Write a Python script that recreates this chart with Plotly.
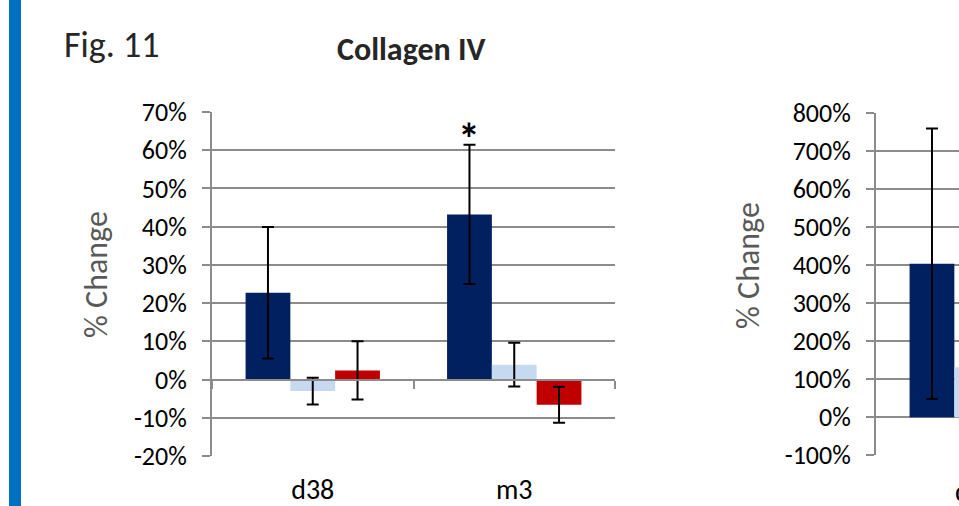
import plotly.graph_objects as go

# ---------------- data ----------------
categories = ["d38", "m3"]
series_names = ["Series 1", "Series 2", "Series 3"]

left_dark = [22.7, 43.2]
left_dark_err = [17.2, 18.2]
left_light = [-3.0, 3.9]
left_light_err = [3.5, 5.7]
left_red = [2.4, -6.6]
left_red_err = [7.6, 4.7]

right_categories = ["d38"]
right_dark = [404]
right_dark_err = [356]
right_light = [132]
right_light_err = [0]
right_red = [None]
right_red_err = [0]

left_ticks = list(range(-20, 71, 10))
right_ticks = list(range(-100, 801, 100))
significant = [("m3", 0)]  # (category, series index) marked with *

# ---------------- style ----------------
W, H = 959, 506
DARK = "#002060"
LIGHT = "#C6D9F1"
RED = "#C00000"
GRID = "#8C8C8C"
FONT = "Carlito, Calibri, Lato, sans-serif"


def px_x(v):
    return v / W


def px_y(v):
    return 1 - v / H


left_xdom = [px_x(212), px_x(615)]
left_ydom = [px_y(456), px_y(112)]
right_xdom = [px_x(876), 1.0]
right_ydom = [px_y(455.3), px_y(113.3)]

fig = go.Figure()

colors = [DARK, LIGHT, RED]
left_vals = [left_dark, left_light, left_red]
left_errs = [left_dark_err, left_light_err, left_red_err]
for name, c, v, e in zip(series_names, colors, left_vals, left_errs):
    fig.add_trace(go.Bar(
        x=categories, y=v, name=name, marker_color=c, marker_line_width=0,
        error_y=dict(type="data", array=e, visible=True, color="black",
                     thickness=2, width=6),
        xaxis="x", yaxis="y", showlegend=False,
    ))

right_vals = [right_dark, right_light, right_red]
right_errs = [right_dark_err, right_light_err, right_red_err]
for name, c, v, e in zip(series_names, colors, right_vals, right_errs):
    fig.add_trace(go.Bar(
        x=right_categories, y=v, name=name, marker_color=c, marker_line_width=0,
        error_y=dict(type="data", array=e, visible=True, color="black",
                     thickness=2, width=6),
        xaxis="x2", yaxis="y2", showlegend=False,
    ))

TICK_SIZE = 26
CAT_SIZE = 28

yaxis_common = dict(
    showline=True, linecolor=GRID, linewidth=2,
    ticks="outside", ticklen=8, tickwidth=2, tickcolor=GRID,
    showgrid=True, gridcolor=GRID, gridwidth=1.5,
    zeroline=False,
    tickfont=dict(family=FONT, size=TICK_SIZE, color="black"),
    ticklabelstandoff=10,
)

left_range = [left_ticks[0], left_ticks[-1]]
zero_pos = left_ydom[0] + (0 - left_range[0]) / (left_range[1] - left_range[0]) * (left_ydom[1] - left_ydom[0])

fig.update_layout(
    width=W, height=H,
    margin=dict(l=0, r=0, t=0, b=0, pad=0, autoexpand=False),
    paper_bgcolor="white", plot_bgcolor="white",
    barmode="group", bargap=1 / 3, bargroupgap=0,
    showlegend=False,
    xaxis=dict(domain=left_xdom, anchor="y", type="category",
               categoryorder="array", categoryarray=categories,
               range=[-0.5, 1.5], showline=False, showgrid=False, ticks="",
               tickfont=dict(family=FONT, size=CAT_SIZE, color="black"),
               ticklabelstandoff=14, automargin=False),
    yaxis=dict(domain=left_ydom, anchor="x", range=left_range,
               tickvals=left_ticks, ticktext=[f"{v}%" for v in left_ticks],
               automargin=False, **yaxis_common),
    xaxis3=dict(overlaying="x", anchor="free", position=zero_pos,
                range=[-0.5, 1.5], tick0=-0.5, dtick=1,
                showline=True, linecolor=GRID, linewidth=2,
                ticks="outside", ticklen=8, tickwidth=2, tickcolor=GRID,
                showticklabels=False, showgrid=False, zeroline=False,
                automargin=False),
    xaxis2=dict(domain=right_xdom, anchor="y2", type="category",
                range=[-0.5, -0.5 + (right_xdom[1] - right_xdom[0]) / (left_xdom[1] - left_xdom[0]) * 2],
                showline=False, showgrid=False, ticks="", showticklabels=False,
                automargin=False),
    yaxis2=dict(domain=right_ydom, anchor="x2",
                range=[right_ticks[0], right_ticks[-1]],
                tickvals=right_ticks, ticktext=[f"{v}%" for v in right_ticks],
                automargin=False, **yaxis_common),
)

# dummy trace so the zero-line axis is drawn
fig.add_trace(go.Scatter(x=[None], y=[None], xaxis="x3", yaxis="y",
                         showlegend=False, hoverinfo="skip"))

# decorations
fig.add_shape(type="rect", xref="paper", yref="paper",
              x0=px_x(9), x1=px_x(21), y0=0, y1=1,
              fillcolor="#0070C0", line_width=0)

fig.add_annotation(text="Fig. 11", xref="paper", yref="paper",
                   x=px_x(62), y=px_y(45), xanchor="left", yanchor="middle",
                   showarrow=False, font=dict(family=FONT, size=36, color="#262626"))
fig.add_annotation(text="<b>Collagen IV</b>", xref="paper", yref="paper",
                   x=px_x(411), y=px_y(50), xanchor="center", yanchor="middle",
                   showarrow=False, font=dict(family=FONT, size=32, color="#262626"))
fig.add_annotation(text="% Change", xref="paper", yref="paper", textangle=-90,
                   x=px_x(96), y=px_y(275), xanchor="center", yanchor="middle",
                   showarrow=False, font=dict(family=FONT, size=32, color="#595959"))
fig.add_annotation(text="% Change", xref="paper", yref="paper", textangle=-90,
                   x=px_x(748), y=px_y(266), xanchor="center", yanchor="middle",
                   showarrow=False, font=dict(family=FONT, size=32, color="#595959"))
# right-chart category label (mostly outside the window)
fig.add_annotation(text=right_categories[0], xref="paper", yref="paper",
                   x=px_x(976.5), y=px_y(491), xanchor="center", yanchor="middle",
                   showarrow=False, font=dict(family=FONT, size=CAT_SIZE, color="black"))

# significance marker(s)
cat_px = (left_xdom[1] - left_xdom[0]) * W / len(categories)
bar_px = cat_px * (1 - 1 / 3) / 3
for cat, si in significant:
    i = categories.index(cat)
    top = left_vals[si][i] + left_errs[si][i]
    fig.add_annotation(text="<b>*</b>", x=cat, y=top, xref="x", yref="y",
                       xshift=(si - 1) * bar_px, yshift=6, showarrow=False,
                       font=dict(family=FONT, size=44, color="black"))

fig.write_html(
    "out.html",
    config={"displayModeBar": False},
    post_script="document.body.style.margin='0';document.body.style.overflow='hidden';",
)
